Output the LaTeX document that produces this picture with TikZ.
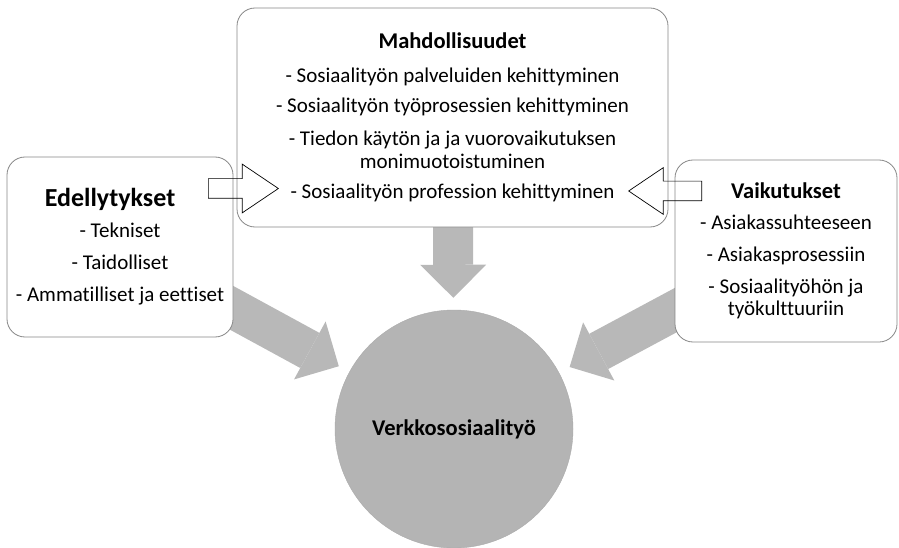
\documentclass[tikz,border=0pt]{standalone}
\usepackage{fontspec}
\setmainfont{Carlito}[Ligatures=NoCommon]
\usetikzlibrary{arrows.meta,shapes.arrows,backgrounds}

\definecolor{reuna}{RGB}{135,135,135}
\definecolor{nuoliharmaa}{RGB}{184,184,184}
\definecolor{pallovari}{RGB}{180,180,180}

\newcommand{\otsikko}[1]{{\fontsize{22.5}{26}\selectfont\bfseries #1}}

\tikzset{
  laatikko/.style={draw=reuna, fill=white, rounded corners=18pt, line width=0.8pt,
    align=center, inner sep=0pt, font=\fontsize{21}{23}\selectfont},
  virta/.style={draw=nuoliharmaa, line width=40pt,
    -{Triangle[width=66pt,length=33pt,line width=0pt]}, shorten >=12pt},
  ontto/.style={draw=black, line width=0.7pt, single arrow, single arrow tip angle=68,
    inner xsep=0pt, inner ysep=9.5pt},
  pallo/.style={circle, minimum size=238pt, inner sep=0pt, draw=reuna!70,
    fill=pallovari, font=\fontsize{22.5}{25}\selectfont\bfseries}
}

\begin{document}
\begin{tikzpicture}[x=1pt,y=-1pt]
\useasboundingbox (0,0) rectangle (899,548);

% centre
\node[pallo] (verkko) at (454,429) {Verkkososiaalityö};

% boxes
\node[laatikko, minimum width=431pt, minimum height=219pt] (mahd) at (452.5,117.5) {%
  \otsikko{Mahdollisuudet}\\[11pt]
  - Sosiaalityön palveluiden kehittyminen\\[7pt]
  - Sosiaalityön työprosessien kehittyminen\\[10pt]
  - Tiedon käytön ja ja vuorovaikutuksen\\
  monimuotoistuminen\\[7pt]
  - Sosiaalityön profession kehittyminen};

\node[laatikko, minimum width=226pt, minimum height=180pt] (edel) at (120,247) {%
  \hspace*{-20pt}{\fontsize{26}{30}\selectfont\bfseries Edellytykset}\\[8pt]
  - Tekniset\\[9pt]
  - Taidolliset\\[9pt]
  - Ammatilliset ja eettiset};

\node[laatikko, minimum width=222pt, minimum height=182pt] (vaik) at (786,251) {%
  \otsikko{Vaikutukset}\\[8pt]
  - Asiakassuhteeseen\\[9pt]
  - Asiakasprosessiin\\[9pt]
  - Sosiaalityöhön ja\\[-1pt]
  työkulttuuriin};

% grey arrows behind the boxes
\begin{pgfonlayer}{background}
\draw[virta] (edel.center) -- (verkko);
\draw[virta] (mahd.center) -- (verkko);
\draw[virta] (vaik.center) -- (verkko);
\end{pgfonlayer}

% hollow arrows
\node[ontto, minimum height=70pt, single arrow head extend=14.5pt, anchor=tail] (nuoli1) at (208,188.5) {};
\node[ontto, minimum height=73pt, single arrow head extend=13.5pt, shape border rotate=180, anchor=tail] (nuoli2) at (702,191) {};
\end{tikzpicture}
\end{document}
